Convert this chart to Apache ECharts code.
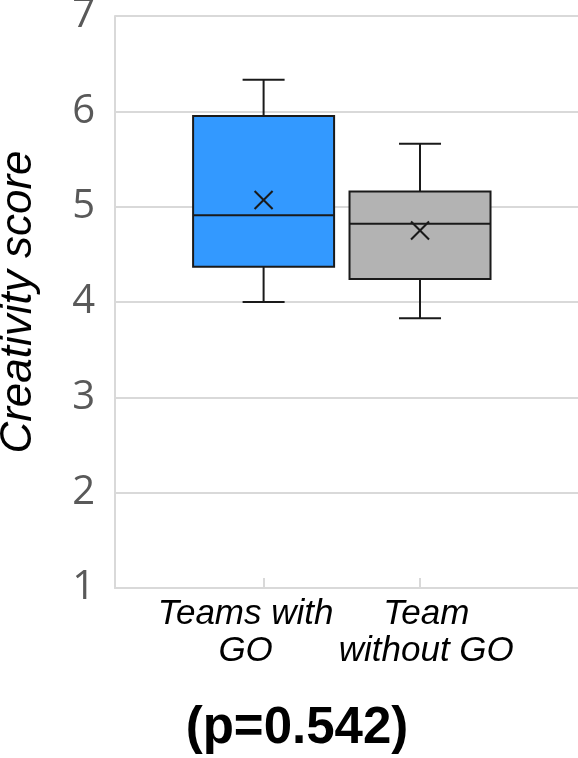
<!DOCTYPE html>
<html>
<head>
<meta charset="utf-8">
<script src="https://cdn.jsdelivr.net/npm/echarts@6/dist/echarts.min.js"></script>
<style>
  html, body { margin: 0; padding: 0; background: #fff; }
  #chart { width: 578px; height: 758px; }
</style>
</head>
<body>
<div id="chart"></div>
<script>
'use strict';

// groups and their tick labels
var categories = ['Teams with GO', 'Team without GO'];
var tickLabels = ['Teams with\nGO', 'Team\nwithout GO'];
var yTicks = [1, 2, 3, 4, 5, 6, 7];

// five-number summary + mean
var minVals = [4.00, 3.83];
var q1Vals = [4.37, 4.24];
var medianVals = [4.91, 4.82];
var q3Vals = [5.95, 5.16];
var maxVals = [6.33, 5.66];
var meanVals = [5.07, 4.75];

var boxColors = ['#3399ff', '#b3b3b3'];
var lineColor = '#1a1a1a';
var gridColor = '#d9d9d9';

var boxData = categories.map(function(name, i) {
    return [i + 1, minVals[i], q1Vals[i], medianVals[i], q3Vals[i], maxVals[i], meanVals[i]];
});

// the labels in the original sit a little off their ticks
var labelShift = [-0.115, 0.04];
var labelPos = labelShift.map(function(d, i) { return i + 1 + d; });

function renderBox(params, api) {
    var x = api.value(0);
    var pMin = api.coord([x, api.value(1)]);
    var pQ1 = api.coord([x, api.value(2)]);
    var pMed = api.coord([x, api.value(3)]);
    var pQ3 = api.coord([x, api.value(4)]);
    var pMax = api.coord([x, api.value(5)]);
    var pMean = api.coord([x, api.value(6)]);
    var cx = pMed[0];
    var half = 70.5, cap = 21, m = 9;
    var ln = { stroke: lineColor, lineWidth: 2 };
    return {
        type: 'group',
        children: [
            { type: 'line', shape: { x1: cx, y1: pMax[1], x2: cx, y2: pQ3[1] }, style: ln },
            { type: 'line', shape: { x1: cx, y1: pQ1[1], x2: cx, y2: pMin[1] }, style: ln },
            { type: 'line', shape: { x1: cx - cap, y1: pMax[1], x2: cx + cap, y2: pMax[1] }, style: ln },
            { type: 'line', shape: { x1: cx - cap, y1: pMin[1], x2: cx + cap, y2: pMin[1] }, style: ln },
            {
                type: 'rect',
                shape: { x: cx - half, y: pQ3[1], width: half * 2, height: pQ1[1] - pQ3[1] },
                style: { fill: boxColors[params.dataIndex], stroke: lineColor, lineWidth: 2 }
            },
            { type: 'line', shape: { x1: cx - half, y1: pMed[1], x2: cx + half, y2: pMed[1] }, style: ln },
            { type: 'line', shape: { x1: pMean[0] - m, y1: pMean[1] - m, x2: pMean[0] + m, y2: pMean[1] + m }, style: ln },
            { type: 'line', shape: { x1: pMean[0] - m, y1: pMean[1] + m, x2: pMean[0] + m, y2: pMean[1] - m }, style: ln }
        ]
    };
}

var chart = echarts.init(document.getElementById('chart'));

var option = {
    backgroundColor: '#fff',
    animation: false,
    title: {
        text: '(p=0.542)',
        left: 292,
        textAlign: 'center',
        top: 698,
        textStyle: {
            fontFamily: 'Liberation Sans',
            fontWeight: 'bold',
            fontSize: 51,
            color: '#000'
        }
    },
    grid: {
        left: 115,
        right: 0,
        top: 16,
        bottom: 170,
        containLabel: false,
        outerBoundsMode: 'none'
    },
    xAxis: {
        type: 'value',
        min: 0.05,
        max: 3.01,
        splitLine: { show: false },
        axisLine: { show: true, lineStyle: { color: gridColor, width: 2 } },
        axisTick: {
            show: true,
            inside: true,
            length: 10,
            customValues: [1, 2],
            lineStyle: { color: gridColor, width: 2 }
        },
        axisLabel: {
            customValues: labelPos,
            margin: 8,
            hideOverlap: false,
            showMinLabel: true,
            showMaxLabel: true,
            fontFamily: 'Liberation Sans',
            fontStyle: 'italic',
            fontSize: 35,
            lineHeight: 37,
            color: '#000',
            formatter: function(v) {
                return v < 1.5 ? tickLabels[0] : tickLabels[1];
            }
        }
    },
    yAxis: {
        type: 'value',
        min: yTicks[0],
        max: yTicks[yTicks.length - 1],
        interval: 1,
        name: 'Creativity score',
        nameLocation: 'middle',
        nameRotate: 90,
        nameGap: 74,
        nameTextStyle: {
            fontFamily: 'Liberation Sans',
            fontStyle: 'italic',
            fontSize: 44,
            color: '#000'
        },
        axisLine: { show: true, lineStyle: { color: gridColor, width: 2 } },
        axisTick: { show: false },
        axisLabel: {
            margin: 20,
            fontFamily: 'Open Sans',
            fontSize: 40,
            color: '#595959'
        },
        splitLine: { show: true, lineStyle: { color: gridColor, width: 2 } }
    },
    series: [{
        type: 'custom',
        renderItem: renderBox,
        encode: { x: 0, y: [1, 2, 3, 4, 5, 6] },
        data: boxData,
        z: 3
    }]
};

chart.setOption(option);
</script>
</body>
</html>
